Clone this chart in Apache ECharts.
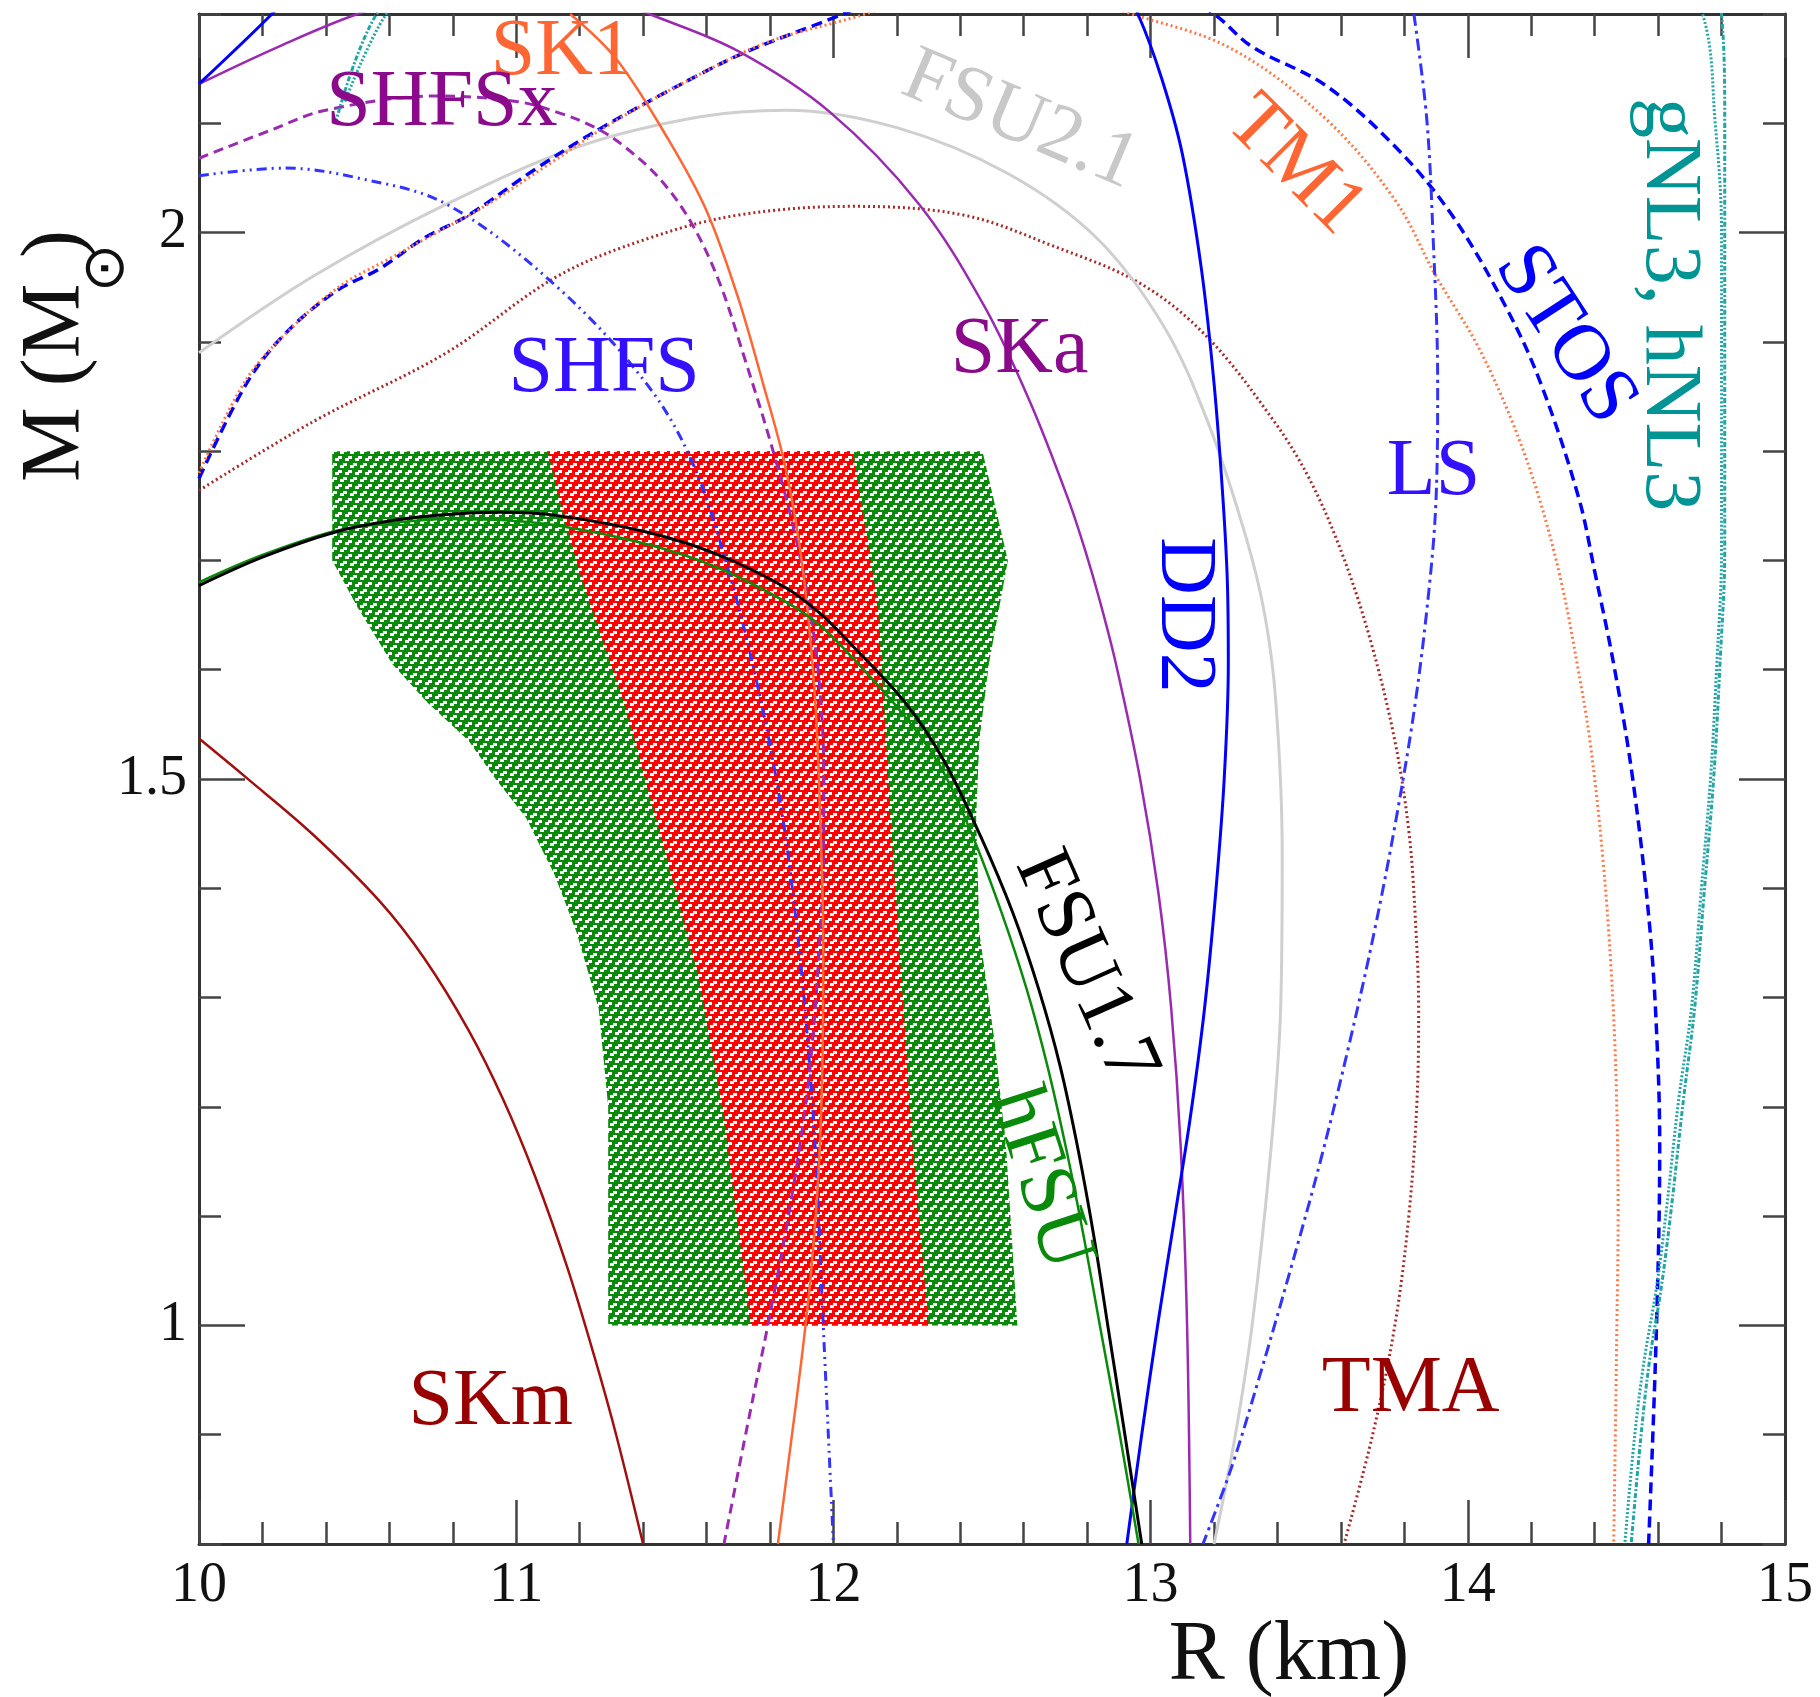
<!DOCTYPE html>
<html>
<head>
<meta charset="utf-8">
<script src="https://cdn.jsdelivr.net/npm/echarts@6/dist/echarts.min.js"></script>
<style>
html,body{margin:0;padding:0;background:#fff}
#main{width:1820px;height:1697px}
</style>
</head>
<body>
<div id="main"></div>
<script>
// mass-radius curves, [R (km), M (Msun)]
var skm = [[10,1.537],[10.15,1.501],[10.36,1.449],[10.57,1.388],[10.71,1.336],[10.85,1.270],[10.96,1.206],[11.06,1.136],[11.16,1.054],[11.245,0.973],[11.315,0.900],[11.40,0.80]];
var fsu17 = [[10,1.677],[10.2,1.703],[10.43,1.726],[10.6,1.736],[10.78,1.742],[10.95,1.744],[11.13,1.741],[11.41,1.726],[11.63,1.706],[11.85,1.675],[11.96,1.651],[12.06,1.622],[12.226,1.57],[12.348,1.517],[12.465,1.447],[12.565,1.378],[12.648,1.307],[12.715,1.237],[12.772,1.16],[12.822,1.08],[12.865,1.0],[12.912,0.913],[12.972,0.80]];
var hfsu = [[10,1.68],[10.2,1.705],[10.43,1.727],[10.6,1.734],[10.78,1.738],[10.95,1.737],[11.13,1.732],[11.41,1.715],[11.63,1.694],[11.85,1.662],[11.96,1.64],[12.06,1.611],[12.226,1.557],[12.34,1.51],[12.44,1.447],[12.53,1.378],[12.61,1.307],[12.675,1.237],[12.735,1.16],[12.79,1.08],[12.84,1.0],[12.895,0.913],[12.962,0.80]];
var ska = [[10,2.136],[10.25,2.17],[10.5,2.2],[10.9,2.235],[11.2,2.225],[11.42,2.2],[11.70,2.166],[11.99,2.11],[12.27,2.026],[12.477,1.932],[12.62,1.845],[12.739,1.757],[12.794,1.709],[12.839,1.664],[12.891,1.605],[12.967,1.50],[13.025,1.395],[13.065,1.29],[13.095,1.163],[13.115,1.0],[13.125,0.80]];
var dd2 = [[10,2.136],[10.23,2.2],[10.6,2.31],[11.3,2.4],[12.2,2.42],[12.75,2.33],[12.96,2.2],[13.035,2.141],[13.10,2.072],[13.16,1.967],[13.20,1.862],[13.228,1.757],[13.242,1.68],[13.245,1.605],[13.232,1.50],[13.205,1.395],[13.17,1.29],[13.125,1.19],[13.078,1.103],[13.022,1.0],[12.97,0.896],[12.925,0.80]];
var fsu21 = [[10,1.89],[10.36,1.96],[10.78,2.026],[11.2,2.079],[11.58,2.106],[11.85,2.112],[12.20,2.096],[12.55,2.054],[12.83,1.995],[13.04,1.915],[13.18,1.827],[13.30,1.722],[13.36,1.65],[13.395,1.57],[13.415,1.43],[13.41,1.29],[13.38,1.163],[13.32,1.0],[13.265,0.896],[13.20,0.80]];
var shfs = [[10,2.052],[10.27,2.059],[10.5,2.05],[10.78,2.026],[11.13,1.95],[11.41,1.862],[11.555,1.79],[11.67,1.69],[11.765,1.58],[11.84,1.465],[11.89,1.35],[11.92,1.256],[11.945,1.15],[11.968,1.0],[11.984,0.9],[12.0,0.80]];
var shfsx = [[10,2.068],[10.22,2.093],[10.40,2.112],[10.75,2.125],[11.0,2.12],[11.13,2.11],[11.25,2.096],[11.34,2.079],[11.45,2.05],[11.55,2.01],[11.64,1.955],[11.72,1.885],[11.80,1.81],[11.87,1.735],[11.92,1.665],[11.955,1.59],[11.97,1.5],[11.968,1.42],[11.95,1.32],[11.92,1.22],[11.87,1.12],[11.80,1.01],[11.73,0.91],[11.655,0.80]];
var sk1 = [[11.17,2.2],[11.315,2.159],[11.48,2.085],[11.60,2.02],[11.70,1.94],[11.78,1.86],[11.845,1.79],[11.89,1.72],[11.92,1.65],[11.945,1.56],[11.96,1.45],[11.968,1.35],[11.966,1.25],[11.955,1.15],[11.93,1.05],[11.90,0.97],[11.865,0.89],[11.825,0.80]];
var stos = [[10,1.775],[10.15,1.862],[10.27,1.907],[10.43,1.946],[10.57,1.967],[10.71,1.995],[10.85,2.016],[11.06,2.058],[11.27,2.096],[11.58,2.145],[11.73,2.166],[12.03,2.2],[12.6,2.27],[13.0,2.235],[13.20,2.2],[13.32,2.17],[13.55,2.135],[13.77,2.079],[13.95,2.016],[14.12,1.932],[14.23,1.862],[14.35,1.757],[14.40,1.69],[14.46,1.605],[14.52,1.50],[14.575,1.36],[14.598,1.25],[14.605,1.163],[14.595,1.0],[14.57,0.80]];
var tm1 = [[10,1.78],[10.15,1.866],[10.3,1.915],[10.45,1.952],[10.6,1.976],[10.75,2.0],[10.9,2.024],[11.1,2.062],[11.3,2.1],[11.6,2.148],[11.8,2.175],[12.10,2.2],[12.5,2.24],[12.94,2.2],[13.25,2.169],[13.545,2.106],[13.77,2.03],[13.90,1.96],[14.03,1.897],[14.14,1.827],[14.225,1.757],[14.295,1.68],[14.345,1.605],[14.385,1.535],[14.425,1.43],[14.452,1.325],[14.468,1.22],[14.474,1.1],[14.47,1.0],[14.46,0.80]];
var tma = [[10,1.764],[10.36,1.827],[10.78,1.89],[11.13,1.96],[11.42,1.995],[11.70,2.016],[12.06,2.024],[12.41,2.016],[12.69,1.988],[12.97,1.953],[13.18,1.904],[13.39,1.827],[13.50,1.775],[13.60,1.709],[13.69,1.63],[13.77,1.535],[13.815,1.45],[13.835,1.37],[13.845,1.29],[13.84,1.207],[13.815,1.103],[13.77,1.0],[13.70,0.9],[13.61,0.80]];
var ls = [[13.83,2.2],[13.87,2.106],[13.89,2.0],[13.905,1.862],[13.90,1.757],[13.88,1.68],[13.835,1.571],[13.775,1.465],[13.705,1.36],[13.625,1.256],[13.535,1.15],[13.44,1.05],[13.34,0.95],[13.255,0.87],[13.165,0.80]];
var gnl3 = [[10.46,2.12],[10.59,2.2],[11.2,2.45],[12.2,2.7],[13.3,2.78],[14.3,2.55],[14.74,2.2],[14.78,2.1],[14.80,2.0],[14.80,1.862],[14.80,1.709],[14.785,1.605],[14.765,1.5],[14.735,1.395],[14.705,1.29],[14.665,1.207],[14.625,1.103],[14.595,1.035],[14.555,0.966],[14.525,0.896],[14.495,0.80]];
var hnl3 = [[10.43,2.10],[10.56,2.2],[11.2,2.46],[12.2,2.71],[13.3,2.79],[14.3,2.6],[14.80,2.2],[14.81,2.1],[14.81,2.0],[14.81,1.862],[14.81,1.709],[14.795,1.605],[14.775,1.5],[14.745,1.395],[14.715,1.29],[14.68,1.207],[14.64,1.103],[14.61,1.035],[14.572,0.966],[14.545,0.896],[14.515,0.80]];

// constraint bands (outline of hatched regions)
var greenBand = [[10.42,1.80],[12.47,1.80],[12.55,1.70],[12.49,1.605],[12.46,1.535],[12.45,1.465],[12.46,1.36],[12.51,1.256],[12.545,1.16],[12.58,1.0],[11.29,1.0],[11.29,1.2],[11.26,1.29],[11.19,1.36],[11.12,1.413],[11.03,1.465],[10.935,1.5],[10.85,1.535],[10.72,1.57],[10.61,1.605],[10.5,1.657],[10.42,1.70]];
var redBand = [[11.10,1.80],[12.06,1.80],[12.14,1.66],[12.18,1.465],[12.25,1.163],[12.30,1.0],[11.74,1.0],[11.65,1.2],[11.57,1.325],[11.44,1.465],[11.34,1.57],[11.21,1.68],[11.15,1.74]];

// curve labels
var labelText = ['SK1','SHFSx','FSU2.1','TM1','STOS','gNL3, hNL3','SHFS','SKa','LS','DD2','FSU1.7','hFSU','SKm','TMA'];
var labelPos = [[11.144,2.164],[10.766,2.118],[12.588,2.102],[13.455,2.061],[14.306,1.906],[14.631,1.934],[11.277,1.874],[12.587,1.892],[13.892,1.78],[13.102,1.65],[12.793,1.327],[12.651,1.134],[10.92,0.929],[13.82,0.941]];
var labelAngle = [0,0,-23,-45,-57,-90,0,0,0,-90,-66,-72,0,0];
var labelColor = ['#ff6633','#8b0a8b','#c8c8c8','#ff6633','#0000ff','#009494','#3311ff','#8b0a8b','#3311ff','#0000ff','#000000','#0a8a0a','#990000','#990000'];

var yMajor = [1, 1.5, 2];

// hatch tile: coloured ground with staggered white step marks
function makeTile(color) {
  var c = document.createElement('canvas');
  c.width = 10; c.height = 14;
  var g = c.getContext('2d');
  g.fillStyle = color;
  g.fillRect(0, 0, 10, 14);
  g.fillStyle = '#ffffff';
  function mark(x, y) {
    for (var k = -10; k <= 10; k += 10) {
      g.fillRect(x + k, y + 2, 4, 3);
      g.fillRect(x + k + 3, y, 4, 3);
    }
  }
  mark(0, 1);
  mark(5, 8);
  return c;
}

var serif = 'Liberation Serif';
var axisCol = '#333';

function xAx(pos, showLabel) {
  return {
    type: 'value', position: pos, min: 10, max: 15, interval: 1,
    axisLine: { show: true, onZero: false, lineStyle: { color: axisCol, width: 3 } },
    axisTick: { show: true, inside: true, length: 44, lineStyle: { color: '#444', width: 2.5 } },
    minorTick: { show: true, splitNumber: 5, length: 22, lineStyle: { color: '#444', width: 2.5 } },
    splitLine: { show: false },
    axisLabel: { show: showLabel, fontFamily: serif, fontSize: 56, color: '#111', margin: 14 }
  };
}
function yMinor(pos, showLabel) {
  return {
    type: 'value', position: pos, min: 0.8, max: 2.2, interval: 0.1,
    axisLine: { show: true, onZero: false, lineStyle: { color: axisCol, width: 3 } },
    axisTick: { show: true, inside: true, length: 22, lineStyle: { color: '#444', width: 2.5 } },
    splitLine: { show: false },
    axisLabel: {
      show: showLabel, interval: 0, fontFamily: serif, fontSize: 56, color: '#111', margin: 12,
      formatter: function (v) {
        var t = Math.round(v * 10) / 10;
        return yMajor.indexOf(t) >= 0 ? String(t) : '';
      }
    }
  };
}
function yMaj(pos) {
  return {
    type: 'value', position: pos, min: 0.8, max: 2.2,
    axisLine: { show: false },
    axisTick: { show: true, inside: true, length: 46, customValues: yMajor, lineStyle: { color: '#444', width: 2.5 } },
    splitLine: { show: false },
    axisLabel: { show: false }
  };
}

function curve(data, color, width, type) {
  return {
    type: 'line', data: data, showSymbol: false, smooth: 0.35, z: 3,
    lineStyle: { color: color, width: width, type: type || 'solid' },
    silent: true
  };
}
function band(pts, color) {
  var tile = makeTile(color);
  return {
    type: 'custom', coordinateSystem: 'cartesian2d', z: 1, silent: true,
    data: [pts[0]],
    renderItem: function (params, api) {
      return {
        type: 'polygon',
        shape: { points: pts.map(function (p) { return api.coord(p); }) },
        style: { fill: { image: tile, repeat: 'repeat' }, stroke: null }
      };
    }
  };
}

var chart = echarts.init(document.getElementById('main'), null, { renderer: 'canvas' });
var option = {
  backgroundColor: '#ffffff',
  animation: false,
  grid: { left: 199, top: 14, width: 1586, height: 1530, containLabel: false },
  xAxis: [xAx('bottom', true), xAx('top', false)],
  yAxis: [yMinor('left', true), yMaj('left'), yMinor('right', false), yMaj('right')],
  series: [
    band(greenBand, '#0a8a0a'),
    band(redBand, '#ff0000'),
    curve(skm, '#a01010', 2.5),
    curve(tma, '#a52a2a', 3, [2, 3]),
    curve(fsu21, '#cfcfcf', 3),
    curve(stos, '#0000ff', 3.5, [11, 6]),
    curve(tm1, '#ff7744', 3, [2, 3]),
    curve(shfs, '#3333ff', 3, [10, 5, 2, 5, 2, 5]),
    curve(shfsx, '#9a2ab0', 3, [10, 6]),
    curve(sk1, '#ff6633', 2.5),
    curve(ska, '#9a2ab0', 2.5),
    curve(dd2, '#0000ff', 3),
    curve(ls, '#3333ff', 3, [12, 5, 3, 5]),
    curve(gnl3, '#22a5a5', 3, [2, 2]),
    curve(hnl3, '#22a5a5', 3, [5, 2, 2, 2]),
    curve(hfsu, '#0a8a0a', 2.5),
    curve(fsu17, '#000000', 3)
  ]
};
chart.setOption(option);

var gfx = [];
for (var i = 0; i < labelText.length; i++) {
  var p = chart.convertToPixel({ xAxisIndex: 0, yAxisIndex: 0 }, labelPos[i]);
  gfx.push({
    type: 'text', x: p[0], y: p[1], rotation: labelAngle[i] * Math.PI / 180, z: 100, silent: true,
    style: { text: labelText[i], fill: labelColor[i], fontSize: 80, fontFamily: serif, align: 'center', verticalAlign: 'middle' }
  });
}
// axis titles
gfx.push({
  type: 'text', x: 1289, y: 1657, z: 100, silent: true,
  style: { text: 'R (km)', fill: '#111', fontSize: 84, fontFamily: serif, align: 'center', verticalAlign: 'middle' }
});
gfx.push({
  type: 'group', x: 57, y: 356, rotation: Math.PI / 2, z: 100, silent: true,
  children: [
    { type: 'text', x: -126, y: 0, style: { text: 'M (M', fill: '#111', fontSize: 84, fontFamily: serif, align: 'left', verticalAlign: 'middle' } },
    { type: 'text', x: 88, y: 51, style: { text: '\u2299', fill: '#111', fontSize: 58, fontFamily: 'DejaVu Sans', align: 'center', verticalAlign: 'middle' } },
    { type: 'text', x: 98, y: 0, style: { text: ')', fill: '#111', fontSize: 84, fontFamily: serif, align: 'left', verticalAlign: 'middle' } }
  ]
});
chart.setOption({ graphic: gfx });
</script>
</body>
</html>
